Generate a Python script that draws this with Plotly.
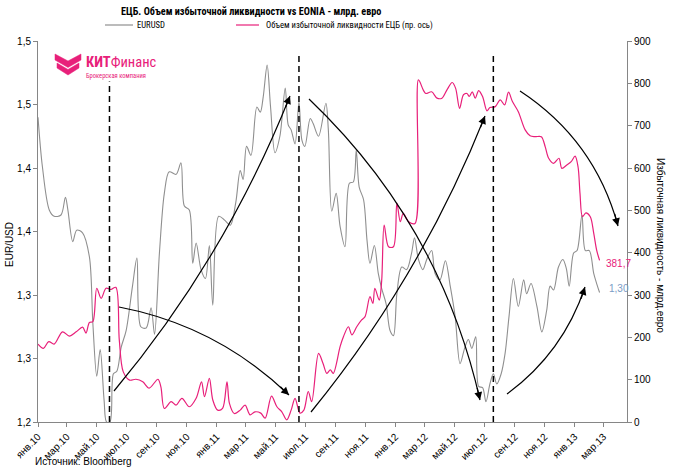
import plotly.graph_objects as go

# ---------------- data ----------------
eur_dates = [
    "2010-01-01", "2010-01-10", "2010-01-24", "2010-02-03", "2010-02-17", "2010-02-26", "2010-03-03",
    "2010-03-13", "2010-03-21", "2010-04-02", "2010-04-16", "2010-04-23", "2010-05-01", "2010-05-08",
    "2010-05-16", "2010-05-21", "2010-05-28", "2010-06-04", "2010-06-11", "2010-06-20", "2010-06-30",
    "2010-07-13", "2010-07-22", "2010-07-30", "2010-08-10", "2010-08-20", "2010-08-27", "2010-09-06",
    "2010-09-16", "2010-09-26", "2010-10-10", "2010-10-20", "2010-10-27", "2010-11-06", "2010-11-13",
    "2010-11-20", "2010-11-30", "2010-12-09", "2010-12-17", "2010-12-24", "2011-01-05", "2011-01-17",
    "2011-01-29", "2011-02-09", "2011-02-18", "2011-02-24", "2011-03-03", "2011-03-12", "2011-03-24",
    "2011-03-31", "2011-04-06", "2011-04-14", "2011-04-21", "2011-04-30", "2011-05-10", "2011-05-21",
    "2011-05-27", "2011-06-02", "2011-06-10", "2011-06-18", "2011-06-24", "2011-06-30", "2011-07-11",
    "2011-07-17", "2011-07-28", "2011-08-12", "2011-08-17", "2011-08-24", "2011-09-02", "2011-09-10",
    "2011-09-20", "2011-09-29", "2011-10-07", "2011-10-13", "2011-10-19", "2011-10-28", "2011-11-04",
    "2011-11-10", "2011-11-19", "2011-11-27", "2011-12-04", "2011-12-13", "2011-12-21", "2011-12-28",
    "2012-01-04", "2012-01-14", "2012-01-24", "2012-02-03", "2012-02-09", "2012-02-17", "2012-02-26",
    "2012-03-05", "2012-03-15", "2012-03-22", "2012-04-01", "2012-04-12", "2012-04-22", "2012-05-02",
    "2012-05-12", "2012-05-22", "2012-05-29", "2012-06-05", "2012-06-13", "2012-06-19", "2012-06-27",
    "2012-07-04", "2012-07-12", "2012-07-19", "2012-07-26", "2012-08-04", "2012-08-12", "2012-08-20",
    "2012-08-29", "2012-09-08", "2012-09-19", "2012-09-25", "2012-10-04", "2012-10-16", "2012-10-26",
    "2012-11-05", "2012-11-12", "2012-11-19", "2012-11-29", "2012-12-08", "2012-12-15", "2012-12-21",
    "2012-12-30", "2013-01-06", "2013-01-16", "2013-01-23", "2013-01-31", "2013-02-09", "2013-02-15",
    "2013-02-21",
]
eur_values = [
    1.440, 1.401, 1.367, 1.362, 1.363, 1.377, 1.367,
    1.342, 1.351, 1.349, 1.330, 1.278, 1.236, 1.257,
    1.217, 1.200, 1.200, 1.238, 1.240, 1.259, 1.272,
    1.307, 1.329, 1.275, 1.274, 1.290, 1.269, 1.333,
    1.380, 1.397, 1.395, 1.404, 1.370, 1.367, 1.325,
    1.341, 1.320, 1.313, 1.339, 1.292, 1.362, 1.359,
    1.355, 1.373, 1.398, 1.391, 1.417, 1.410, 1.448,
    1.444, 1.456, 1.481, 1.448, 1.412, 1.425, 1.463,
    1.434, 1.430, 1.419, 1.452, 1.422, 1.417, 1.439,
    1.435, 1.425, 1.451, 1.430, 1.366, 1.380, 1.354,
    1.338, 1.388, 1.389, 1.414, 1.385, 1.375, 1.343,
    1.325, 1.339, 1.317, 1.305, 1.293, 1.272, 1.268,
    1.301, 1.322, 1.320, 1.333, 1.345, 1.328, 1.320,
    1.328, 1.335, 1.317, 1.312, 1.327, 1.307, 1.283,
    1.246, 1.259, 1.265, 1.258, 1.267, 1.228, 1.227,
    1.216, 1.230, 1.238, 1.230, 1.238, 1.254, 1.283,
    1.313, 1.291, 1.312, 1.301, 1.309, 1.291, 1.271,
    1.288, 1.307, 1.304, 1.322, 1.328, 1.321, 1.307,
    1.333, 1.335, 1.363, 1.335, 1.335, 1.317, 1.309,
    1.302,
]

liq_dates = [
    "2010-01-01", "2010-01-12", "2010-01-23", "2010-02-03", "2010-02-20", "2010-03-06", "2010-03-20",
    "2010-04-02", "2010-04-09", "2010-04-16", "2010-04-23", "2010-05-01", "2010-05-10", "2010-05-20",
    "2010-05-30", "2010-06-09", "2010-06-16", "2010-06-24", "2010-07-07", "2010-07-20", "2010-08-03",
    "2010-08-16", "2010-09-03", "2010-09-09", "2010-09-16", "2010-09-30", "2010-10-10", "2010-10-22",
    "2010-11-06", "2010-11-20", "2010-12-01", "2010-12-07", "2010-12-17", "2010-12-24", "2011-01-03",
    "2011-01-13", "2011-01-22", "2011-01-27", "2011-02-06", "2011-02-18", "2011-02-28", "2011-03-10",
    "2011-03-20", "2011-04-01", "2011-04-10", "2011-04-23", "2011-05-04", "2011-05-14", "2011-05-24",
    "2011-06-02", "2011-06-10", "2011-06-20", "2011-06-28", "2011-07-07", "2011-07-14", "2011-07-28",
    "2011-08-06", "2011-08-14", "2011-08-21", "2011-08-27", "2011-09-10", "2011-09-17", "2011-09-27",
    "2011-10-04", "2011-10-14", "2011-10-24", "2011-10-31", "2011-11-10", "2011-11-16", "2011-11-20",
    "2011-11-29", "2011-12-04", "2011-12-09", "2011-12-18", "2011-12-28", "2012-01-04", "2012-01-11",
    "2012-01-17", "2012-01-28", "2012-02-10", "2012-02-17", "2012-02-27", "2012-03-03", "2012-03-15",
    "2012-03-26", "2012-04-05", "2012-04-15", "2012-04-26", "2012-05-03", "2012-05-11", "2012-05-19",
    "2012-05-26", "2012-05-31", "2012-06-06", "2012-06-12", "2012-06-19", "2012-06-27", "2012-07-06",
    "2012-07-12", "2012-07-23", "2012-08-02", "2012-08-11", "2012-08-19", "2012-08-27", "2012-09-08",
    "2012-09-22", "2012-10-02", "2012-10-12", "2012-10-25", "2012-11-02", "2012-11-09", "2012-11-19",
    "2012-11-30", "2012-12-06", "2012-12-16", "2012-12-25", "2013-01-02", "2013-01-08", "2013-01-12",
    "2013-01-17", "2013-01-24", "2013-02-02", "2013-02-09", "2013-02-15", "2013-02-21",
]
liq_values = [
    184, 174, 190, 184, 213, 203, 213,
    224, 210, 235, 237, 316, 292, 316,
    313, 318, 194, 119, 99, 101, 95,
    80, 101, 83, 32, 48, 40, 56,
    36, 56, 95, 60, 103, 52, 28,
    32, 95, 44, 20, 28, 40, 17,
    24, 21, 9, 61, 36, 24, 5,
    28, 56, 21, 28, 72, 48, 162,
    139, 115, 123, 115, 178, 202, 225,
    206, 225, 241, 249, 296, 280, 316,
    288, 335, 465, 414, 414, 517, 473,
    493, 473, 469, 808, 784, 776, 780,
    765, 765, 784, 802, 788, 741, 773,
    776, 769, 780, 765, 783, 769, 735,
    743, 745, 761, 749, 779, 757, 733,
    690, 676, 674, 674, 650, 623, 611,
    623, 599, 607, 615, 628, 603, 540,
    485, 494, 485, 446, 406, 381.7,
]

event_dates = ["2010-05-27", "2011-06-18", "2012-07-19"]

month_ticks = [
    "2010-01-01", "2010-03-01", "2010-05-01", "2010-07-01", "2010-09-01", "2010-11-01",
    "2011-01-01", "2011-03-01", "2011-05-01", "2011-07-01", "2011-09-01", "2011-11-01",
    "2012-01-01", "2012-03-01", "2012-05-01", "2012-07-01", "2012-09-01", "2012-11-01",
    "2013-01-01", "2013-03-01",
]
month_labels = [
    "янв.10", "мар.10", "май.10", "июл.10", "сен.10", "ноя.10",
    "янв.11", "мар.11", "май.11", "июл.11", "сен.11", "ноя.11",
    "янв.12", "мар.12", "май.12", "июл.12", "сен.12", "ноя.12",
    "янв.13", "мар.13",
]
left_tickvals = [1.2, 1.25, 1.3, 1.35, 1.4, 1.45, 1.5]
left_ticktext = ["1,2", "1,3", "1,3", "1,4", "1,4", "1,5", "1,5"]
right_tickvals = [0, 100, 200, 300, 400, 500, 600, 700, 800, 900]

# ---------------- styling / geometry ----------------
W, H = 674, 476
L, R, T, B = 38, 47, 41, 54
PW, PH = W - L - R, H - T - B
GRAY = "#8f8f8f"
PINK = "#e8207a"
AXIS = "#868686"
FONT = "Liberation Sans, Arial, sans-serif"
NARROW = "Roboto Condensed, Open Sans Condensed, Liberation Sans, sans-serif"


def P(x, y):
    """pixel position on the page -> paper coordinates (for decorations only)"""
    return (x - L) / PW, (H - B - y) / PH


fig = go.Figure()
fig.add_trace(go.Scatter(
    x=eur_dates, y=eur_values, mode="lines", name="EURUSD",
    line=dict(color=GRAY, width=1.1, shape="spline", smoothing=0.9),
    yaxis="y", showlegend=False, hoverinfo="skip"))
fig.add_trace(go.Scatter(
    x=liq_dates, y=liq_values, mode="lines",
    name="Объем избыточной ликвидности ЕЦБ (пр. ось)",
    line=dict(color=PINK, width=1.2, shape="spline", smoothing=0.9),
    yaxis="y2", showlegend=False, hoverinfo="skip"))

shapes = []
annotations = []

# dashed event lines
event_tops = [0.894, 0.969, 0.963]
for d, top in zip(event_dates, event_tops):
    shapes.append(dict(type="line", xref="x", yref="paper", x0=d, x1=d, y0=0, y1=top,
                       line=dict(color="black", width=1.5, dash="6px,4px")))

# curved arrows (start, control, end) in page pixels
arrows = [
    ((114, 391), (225.6, 257.5), (290, 96)),
    ((119, 307), (217, 325.8), (289, 395)),
    ((309, 99), (439.9, 223.7), (480, 400)),
    ((311, 412), (420.8, 277.4), (485, 116)),
    ((520, 91), (594.6, 139.9), (618, 226)),
    ((507, 394), (563, 352.9), (585, 287)),
]
for p0, c, p1 in arrows:
    a, b_, e = P(*p0), P(*c), P(*p1)
    shapes.append(dict(type="path", xref="paper", yref="paper",
                       path=f"M {a[0]},{a[1]} Q {b_[0]},{b_[1]} {e[0]},{e[1]}",
                       line=dict(color="black", width=1.2)))
    dx, dy = p1[0] - c[0], p1[1] - c[1]
    n = (dx * dx + dy * dy) ** 0.5
    annotations.append(dict(x=e[0], y=e[1], xref="paper", yref="paper", text="",
                            showarrow=True, arrowhead=2, arrowsize=1.3, arrowwidth=1.2,
                            arrowcolor="black", ax=-dx / n * 14, ay=-dy / n * 14,
                            axref="pixel", ayref="pixel", standoff=0))

# title
tx, ty = P(251, 12)
annotations.append(dict(x=tx, y=ty, xref="paper", yref="paper", showarrow=False,
                        text="<b>ЕЦБ. Объем избыточной ликвидности vs EONIA - млрд. евро</b>",
                        font=dict(family=NARROW, size=10.2, color="black"),
                        xanchor="center", yanchor="middle"))

# legend
for (x0, x1, col, tx0, label) in [
    (105, 133, GRAY, 135, "EURUSD"),
    (236, 259, PINK, 264, "Объем избыточной ликвидности ЕЦБ (пр. ось)"),
]:
    a, b_ = P(x0, 25), P(x1, 25)
    shapes.append(dict(type="line", xref="paper", yref="paper", x0=a[0], x1=b_[0], y0=a[1], y1=b_[1],
                       line=dict(color=col, width=1.2)))
    lx, ly = P(tx0, 25)
    annotations.append(dict(x=lx, y=ly, xref="paper", yref="paper", showarrow=False, text=label,
                            font=dict(family=NARROW, size=8.6, color="black"),
                            xanchor="left", yanchor="middle"))

# axis titles
ax_, ay_ = P(10, 245)
annotations.append(dict(x=ax_, y=ay_, xref="paper", yref="paper", showarrow=False, text="EUR/USD",
                        textangle=-90, font=dict(family=FONT, size=10, color="black"),
                        xanchor="center", yanchor="middle"))
ax_, ay_ = P(660, 245)
annotations.append(dict(x=ax_, y=ay_, xref="paper", yref="paper", showarrow=False,
                        text="Избыточная ликвидность - млрд.евро",
                        textangle=90, font=dict(family=FONT, size=10, color="black"),
                        xanchor="center", yanchor="middle"))

# end-value labels
ex, ey = P(604, 263)
annotations.append(dict(x=ex, y=ey, xref="paper", yref="paper", showarrow=False,
                        text=f"{liq_values[-1]:.1f}".replace(".", ","),
                        font=dict(family=FONT, size=10, color=PINK), xanchor="left", yanchor="middle"))
ex, ey = P(607, 288)
annotations.append(dict(x=ex, y=ey, xref="paper", yref="paper", showarrow=False,
                        text=f"{eur_values[-1]:.2f}".replace(".", ","),
                        font=dict(family=FONT, size=10, color="#7a9cc6"), xanchor="left", yanchor="middle"))

# source
sx, sy = P(33, 461)
annotations.append(dict(x=sx, y=sy, xref="paper", yref="paper", showarrow=False,
                        text="Источник: Bloomberg", font=dict(family=FONT, size=10, color="black"),
                        xanchor="left", yanchor="middle"))

# logo
chev1 = [(55, 54), (68, 61), (81, 54), (81, 60), (68, 67.5), (55, 60)]
chev2 = [(57, 63), (68, 69.5), (79, 63), (79, 68), (68, 75), (57, 68)]
for poly in (chev1, chev2):
    pts = [P(*p) for p in poly]
    path = "M " + " L ".join(f"{x},{y}" for x, y in pts) + " Z"
    shapes.append(dict(type="path", xref="paper", yref="paper", path=path,
                       fillcolor=PINK, line=dict(color=PINK, width=0.5)))
lx, ly = P(84, 63)
annotations.append(dict(x=lx, y=ly, xref="paper", yref="paper", showarrow=False,
                        text="<b>КИТ</b>Финанс", font=dict(family=NARROW, size=14.5, color=PINK),
                        xanchor="left", yanchor="middle"))
lx, ly = P(84, 76)
annotations.append(dict(x=lx, y=ly, xref="paper", yref="paper", showarrow=False,
                        text="Брокерская компания", font=dict(family=NARROW, size=6.5, color=PINK),
                        xanchor="left", yanchor="middle"))

fig.update_layout(
    width=W, height=H,
    margin=dict(l=L, r=R, t=T, b=B, pad=0),
    paper_bgcolor="white", plot_bgcolor="white",
    font=dict(family=FONT, size=10, color="black"),
    showlegend=False,
    xaxis=dict(type="date", range=["2010-01-01", "2013-04-18"],
               tickmode="array", tickvals=month_ticks, ticktext=month_labels,
               tickangle=-45, ticks="outside", ticklen=4, tickcolor=AXIS,
               showline=True, linecolor=AXIS, linewidth=1, showgrid=False, zeroline=False,
               tickfont=dict(family=FONT, size=10, color="black")),
    yaxis=dict(range=[1.2, 1.5], tickmode="array", tickvals=left_tickvals, ticktext=left_ticktext,
               ticks="outside", ticklen=4, tickcolor=AXIS, showline=True, linecolor=AXIS,
               linewidth=1, showgrid=False, zeroline=False,
               tickfont=dict(family=FONT, size=10, color="black")),
    yaxis2=dict(range=[0, 900], overlaying="y", side="right", tickmode="array",
                tickvals=right_tickvals, ticks="outside", ticklen=4, tickcolor=AXIS,
                showline=True, linecolor=AXIS, linewidth=1, showgrid=False, zeroline=False,
                tickfont=dict(family=FONT, size=10, color="black")),
    shapes=shapes,
    annotations=annotations,
)

fig.write_html("out.html", config={"displayModeBar": False},
               post_script="document.body.style.margin='0';")
